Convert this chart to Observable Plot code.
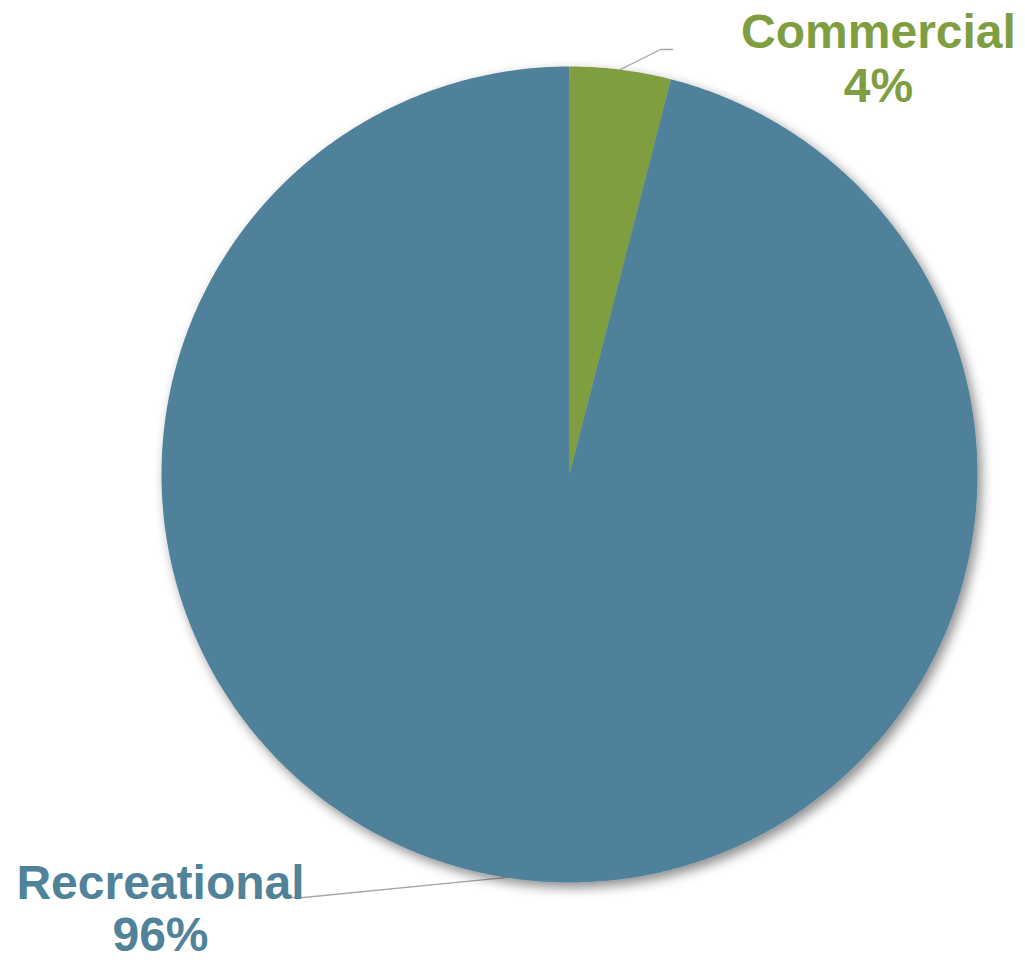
<!DOCTYPE html>
<html>
<head>
<meta charset="utf-8">
<script src="https://cdn.jsdelivr.net/npm/d3@7"></script>
<script src="https://cdn.jsdelivr.net/npm/@observablehq/plot@0.6"></script>
<style>
  html, body { margin: 0; padding: 0; background: #fff; }
  #chart svg { display: block; }
</style>
</head>
<body>
<div id="chart"></div>
<script>
// ---- data ----
const categories = ["Commercial", "Recreational"];
const shares = [4, 96];               // percent
const sliceColors = ["#7F9E41", "#50829A"];
const percentLabels = ["4%", "96%"];

// ---- layout (pixels) ----
const W = 1025, H = 960;
const CX = 569, CY = 474, R = 408;

// unit-circle coordinates: y up
const xDomain = [-CX / R, (W - CX) / R];
const yDomain = [-(H - CY) / R, CY / R];

// slice angles (clockwise from 12 o'clock)
const total = d3.sum(shares);
let acc = 0;
const slices = categories.map((c, i) => {
  const a0 = acc / total * 2 * Math.PI;
  acc += shares[i];
  const a1 = acc / total * 2 * Math.PI;
  return {category: c, a0, a1, color: sliceColors[i], label: percentLabels[i]};
});

// polygon points for each slice
const polyPts = [];
for (const s of slices) {
  polyPts.push({category: s.category, x: 0, y: 0});
  const n = Math.max(8, Math.ceil((s.a1 - s.a0) / (2 * Math.PI) * 720));
  for (let k = 0; k <= n; k++) {
    const a = s.a0 + (s.a1 - s.a0) * k / n;
    polyPts.push({category: s.category, x: Math.sin(a), y: Math.cos(a)});
  }
  polyPts.push({category: s.category, x: 0, y: 0});
}

// label placement (pixels -> units)
const px = (x) => (x - CX) / R;
const py = (y) => (CY - y) / R;
const labelPos = {
  Commercial: {x: 878, y1: 47, y2: 101},
  Recreational: {x: 160, y1: 898, y2: 950}
};
const labelRows = [];
slices.forEach(s => {
  const p = labelPos[s.category];
  labelRows.push({text: s.category, x: px(p.x), y: py(p.y1), color: s.color});
  labelRows.push({text: s.label, x: px(p.x), y: py(p.y2), color: s.color});
});

// leader lines
const leaders = [
  {id: "Commercial", x: px(620), y: py(69)},
  {id: "Commercial", x: px(660), y: py(49)},
  {id: "Commercial", x: px(672), y: py(49)},
  {id: "Recreational", x: px(515), y: py(876)},
  {id: "Recreational", x: px(303), y: py(897)},
  {id: "Recreational", x: px(290), y: py(897)}
];

const plot = Plot.plot({
  width: W,
  height: H,
  margin: 0,
  x: {domain: xDomain, axis: null},
  y: {domain: yDomain, axis: null},
  style: {background: "transparent"},
  marks: [
    Plot.line(leaders, {x: "x", y: "y", z: "id", stroke: "#A6A6A6", strokeWidth: 1.3, curve: "linear"}),
    Plot.line(polyPts, {
      x: "x", y: "y", z: "category",
      fill: d => slices.find(s => s.category === d.category).color,
      stroke: "none", curve: "linear", className: "pie-slice"
    }),
    Plot.text(labelRows, {
      x: "x", y: "y", text: "text",
      fill: d => d.color,
      fontSize: 48, fontWeight: "bold",
      fontFamily: "Liberation Sans, Arial, sans-serif",
      textAnchor: "middle", lineAnchor: "bottom"
    })
  ]
});

// soft drop shadow under the pie
const svg = d3.select(plot);
const defs = svg.insert("defs", ":first-child");
const f = defs.append("filter").attr("id", "pieShadow")
  .attr("x", "-10%").attr("y", "-10%").attr("width", "120%").attr("height", "120%");
f.append("feDropShadow").attr("dx", 4).attr("dy", 5).attr("stdDeviation", 6)
  .attr("flood-color", "#000").attr("flood-opacity", 0.45);
svg.selectAll("g.pie-slice, .pie-slice").attr("filter", "url(#pieShadow)");

document.getElementById("chart").appendChild(plot);
</script>
</body>
</html>
